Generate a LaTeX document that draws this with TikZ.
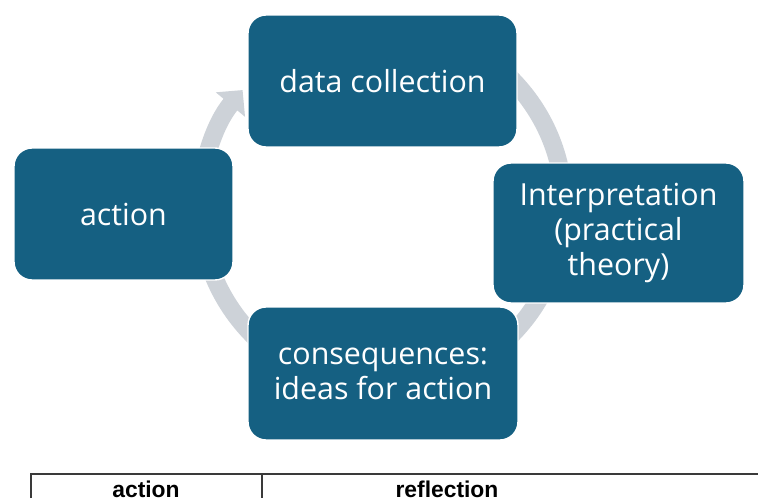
\documentclass[tikz,border=0pt]{standalone}
\usepackage{fontspec}
\setmainfont{Open Sans}
\newfontfamily\tablefont{Liberation Sans}
\usetikzlibrary{arrows.meta}
\definecolor{boxblue}{HTML}{156082}
\definecolor{ringgray}{HTML}{CDD2D8}
\definecolor{rulegray}{HTML}{3A3A3A}

\begin{document}
\begin{tikzpicture}[x=0.02cm, y=0.02cm,
    stage/.style={draw=white, line width=0.8pt, fill=boxblue, rounded corners=0.36cm,
      text=white, align=center, inner sep=0pt,
      font=\fontsize{17.3}{19.8}\selectfont},
    ring/.style={ringgray, line width=0.36cm, -{Triangle[width=0.74cm, length=0.38cm]}},
    head/.style={anchor=base, font=\tablefont\bfseries\fontsize{13}{15}\selectfont}]
    \clip (0,0) rectangle (758,498);

    % the cycle ring, mostly hidden behind the boxes
    \coordinate (hub) at (382,291);
    \draw[ring] (hub) ++(90:3.64cm) arc[start angle=90, end angle=-220, radius=3.64cm];

    % the four stages
    \node[stage, minimum width=5.38cm, minimum height=2.64cm] (data) at (382.5,417) {data collection};
    \node[stage, minimum width=5.02cm, minimum height=2.8cm] (interp) at (618.5,265) {Interpretation\\(practical\\theory)};
    \node[stage, minimum width=5.4cm, minimum height=2.66cm] (cons) at (383,124.5) {consequences:\\ideas for action};
    \node[stage, minimum width=4.38cm, minimum height=2.64cm] (act) at (123.5,284) {action};

    % table header below
    \draw[rulegray, line width=0.9pt] (31,0) |- (758,24);
    \draw[rulegray, line width=0.6pt] (262,24) -- (262,0);
    \node[head] (acthead) at (146,1) {action};
    \node[head] (reflhead) at (447,1) {reflection};
\end{tikzpicture}
\end{document}
